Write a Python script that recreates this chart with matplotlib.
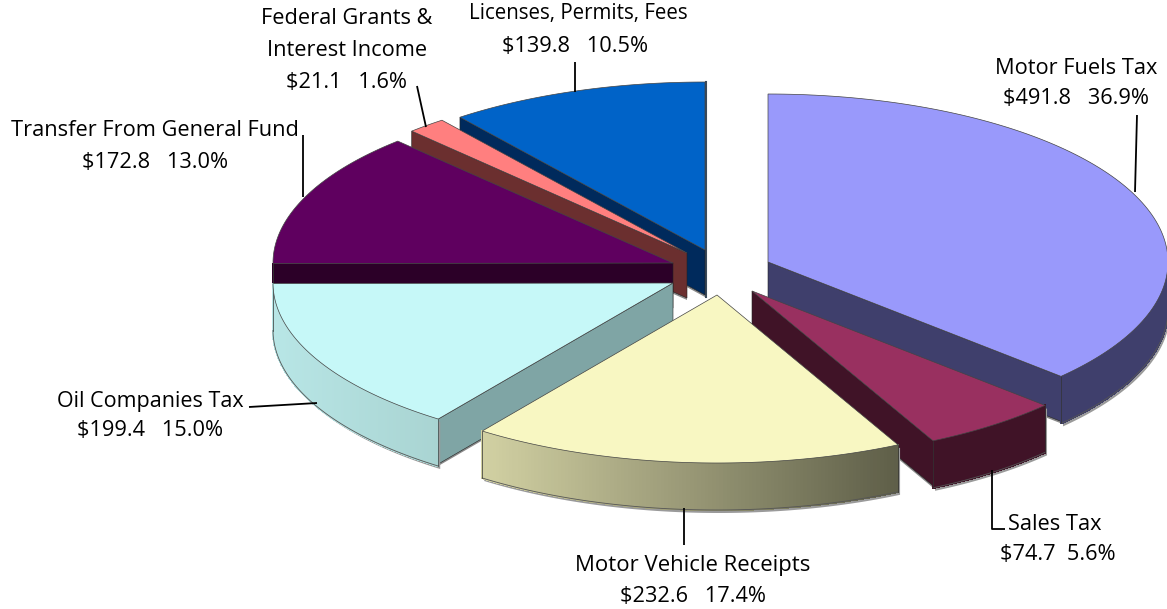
import numpy as np
import matplotlib
matplotlib.use('Agg')
import matplotlib.pyplot as plt
from matplotlib.colors import to_rgb
from matplotlib.patches import Polygon

plt.rcParams['font.family'] = ['Open Sans', 'DejaVu Sans']

# data, clockwise from 12 o'clock
names = ['Motor Fuels Tax', 'Sales Tax', 'Motor Vehicle Receipts', 'Oil Companies Tax',
         'Transfer From General Fund', 'Federal Grants &\nInterest Income', 'Licenses, Permits, Fees']
amounts = [491.8, 74.7, 232.6, 199.4, 172.8, 21.1, 139.8]
percents = [36.9, 5.6, 17.4, 15.0, 13.0, 1.6, 10.5]

# exploded apex of each slice, pixels
apex_x = [768, 752, 717, 673, 673, 687, 705]
apex_y = [262, 291, 295, 283, 263, 253, 250]
rx, ry, depth = 400, 168, 47

top_colors = ['#9999fb', '#993060', '#f8f7c2', '#c6f8f8', '#5f005f', '#ff7f7f', '#0063c8']
side_colors = ['#3f3f6c', '#401327', '#d2d1a3', '#7fa5a5', '#2c0028', '#6b2f2f', '#002a5c']
rim_left = ['#3f3f6c', '#401327', '#d2d1a3', '#b8e6e6', '#2c0028', '#6b2f2f', '#002a5c']
rim_right = ['#3f3f6c', '#401327', '#5e5e48', '#a9d4d2', '#2c0028', '#6b2f2f', '#002a5c']
draw_order = [6, 5, 4, 0, 3, 1, 2]

fig = plt.figure(figsize=(11.67, 6.09), dpi=100)
ax = fig.add_axes([0, 0, 1, 1])
ax.set_xlim(0, 1167)
ax.set_ylim(609, 0)
ax.axis('off')

edges = np.concatenate([[0], np.cumsum(amounts)]) / np.sum(amounts) * 360


def rim(i, a, b, n=120):
    t = np.radians(np.linspace(a, b, n))
    return apex_x[i] + rx * np.sin(t), apex_y[i] - ry * np.cos(t)


z = 2
for i in draw_order:
    a, b = edges[i], edges[i + 1]
    x, y = rim(i, a, b)
    cx, cy = apex_x[i], apex_y[i]

    # flat side walls, only the ones that face the viewer
    for k, xe, ye in ((0, x[0], y[0]), (1, x[-1], y[-1])):
        if (k == 1 and 90 < b < 180) or (k == 0 and a > 180):
            ax.add_patch(Polygon([(cx, cy), (xe, ye), (xe, ye + depth), (cx, cy + depth)],
                                 fc='#8a8a8a', ec='none', zorder=z))
            ax.add_patch(Polygon([(cx, cy), (xe, ye), (xe, ye + depth - 2), (cx, cy + depth - 2)],
                                 fc=side_colors[i], ec='#222222', lw=0.4, zorder=z + 1))

    # outer wall on the front half of the ellipse
    a2, b2 = max(a, 90), min(b, 270)
    if a2 < b2:
        xr, yr = rim(i, a2, b2)
        ax.add_patch(Polygon(np.column_stack([np.r_[xr, xr[::-1]] + 2,
                                              np.r_[yr, yr[::-1] + depth] + 3]),
                             fc='#9a9a9a', ec='none', zorder=z + 2))
        c0, c1 = np.array(to_rgb(rim_left[i])), np.array(to_rgb(rim_right[i]))
        order = np.argsort(xr)
        xs, ys = xr[order], yr[order]
        span = xs[-1] - xs[0]
        for j in range(len(xs) - 1):
            c = c0 + (c1 - c0) * (xs[j] - xs[0]) / span
            ax.add_patch(Polygon([(xs[j], ys[j]), (xs[j + 1], ys[j + 1]),
                                  (xs[j + 1], ys[j + 1] + depth), (xs[j], ys[j] + depth)],
                                 fc=c, ec=c, lw=1.0, antialiased=False, zorder=z + 3))
        ax.plot(xr, yr + depth, color='#555555', lw=0.6, zorder=z + 3)
        for xe, ye in ((xr[0], yr[0]), (xr[-1], yr[-1])):
            ax.plot([xe, xe], [ye, ye + depth], color='#333333', lw=0.5, zorder=z + 3)

    # top face
    ax.add_patch(Polygon(np.column_stack([np.r_[cx, x], np.r_[cy, y]]),
                         fc=top_colors[i], ec='#444444', lw=0.5, zorder=z + 4))
    z += 5

# right edge of the last slice is just visible
ax.plot([apex_x[6] + 1, apex_x[6] + 1], [apex_y[6] - ry, apex_y[6] + depth],
        color='#3a4a5a', lw=1.5, zorder=1)

# leader lines
leaders = [
    ([1137, 1135], [115, 192]),
    ([992, 992, 1005], [470, 529, 529]),
    ([684, 684], [508, 545]),
    ([249, 317], [407, 403]),
    ([303, 303], [135, 197]),
    ([417, 426], [86, 127]),
    ([575, 575], [62, 92]),
]
for lx, ly in leaders:
    ax.plot(lx, ly, color='black', lw=1.3, zorder=z + 1, solid_capstyle='butt')

# labels
label_x = [1076, 1055, 693, 150, 155, 347, 578]
label_y = [69, 524, 565, 402, 130, 19, 14]
value_x = [1076, 1058, 693, 150, 155, 347, 575]
value_y = [99, 555, 596, 431, 162, 82, 47]
label_size = [15.7, 15.7, 15.9, 15.5, 15.7, 15.7, 14.8]
gaps = ['   ', '  ', '   ', '   ', '   ', '   ', '   ']
for i in range(len(names)):
    lines = names[i].split('\n')
    for n, line in enumerate(lines):
        ax.text(label_x[i], label_y[i] + n * 32, line, ha='center', va='center',
                fontsize=label_size[i], color='black', zorder=z + 2)
    ax.text(value_x[i], value_y[i], f'${amounts[i]:.1f}{gaps[i]}{percents[i]:.1f}%',
            ha='center', va='center', fontsize=15.7, color='black', zorder=z + 2)

fig.savefig('out.png', dpi=100)
